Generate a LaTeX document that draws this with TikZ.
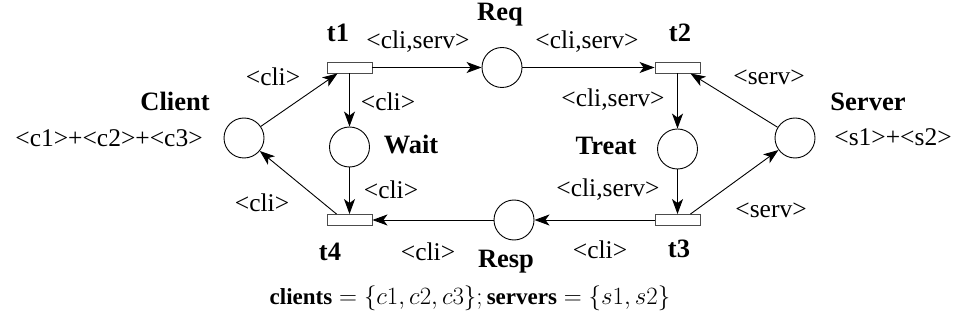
\documentclass[tikz,border=0pt]{standalone}
\usepackage{fontspec}
\setmainfont{Liberation Serif}
\usetikzlibrary{arrows.meta}
\begin{document}
\begin{tikzpicture}[x=1pt,y=-1pt,
 place/.style={circle,draw,line width=0.9pt,minimum size=40pt,inner sep=0pt},
 trans/.style={rectangle,draw=black!70,fill=white,line width=0.9pt,minimum width=45pt,minimum height=11pt,inner sep=0pt},
 arc/.style={line width=0.9pt,-{Stealth[length=15pt,width=11pt,inset=4pt]}},
 lbl/.style={font=\fontsize{25.5}{30}\selectfont,inner sep=0pt},
 blbl/.style={font=\fontsize{26.5}{30}\selectfont\bfseries,inner sep=0pt}]
\useasboundingbox (0,0) rectangle (957,320);
% places
\node[place] (Client) at (244,138) {};
\node[place] (Wait) at (349.5,147) {};
\node[place] (Req) at (502,67.5) {};
\node[place] (Treat) at (677.5,149) {};
\node[place] (Resp) at (514,220) {};
\node[place] (Server) at (795,138) {};
% transitions
\node[trans] (t1) at (349.5,67.5) {};
\node[trans] (t4) at (349.5,220) {};
\node[trans] (t2) at (677.5,67.5) {};
\node[trans] (t3) at (677.5,220) {};
% arcs
\draw[arc] (Client) -- ([xshift=11pt]t1.south west);
\draw[arc] (t1) -- (Wait);
\draw[arc] (Wait) -- (t4);
\draw[arc] ([xshift=10pt]t4.north west) -- (Client);
\draw[arc] (t1) -- (Req);
\draw[arc] (Req) -- (t2);
\draw[arc] (t2) -- (Treat);
\draw[arc] (Treat) -- (t3);
\draw[arc] (Server) -- ([xshift=-10pt]t2.south east);
\draw[arc] ([xshift=-10pt]t3.north east) -- (Server);
\draw[arc] (t3) -- (Resp);
\draw[arc] (Resp) -- (t4);
% names
\node[blbl] (nt1) at (338,33) {t1};
\node[blbl] (nt2) at (680,33) {t2};
\node[blbl] (nt3) at (679,249) {t3};
\node[blbl] (nt4) at (330,252) {t4};
\node[blbl] (nReq) at (500,15) {Req};
\node[blbl] (nResp) at (506,262) {Resp};
\node[blbl] (nWait) at (411,145) {Wait};
\node[blbl] (nTreat) at (606,146) {Treat};
\node[blbl] (nClient) at (175,101) {Client};
\node[blbl] (nServer) at (868,102) {Server};
% markings
\node[lbl] (mClient) at (109,138) {<c1>+<c2>+<c3>};
\node[lbl] (mServer) at (893,137) {<s1>+<s2>};
% arc labels
\node[lbl] (a1) at (273,77) {<cli>};
\node[lbl] (a2) at (388,102) {<cli>};
\node[lbl] (a3) at (391,190) {<cli>};
\node[lbl] (a4) at (262,203) {<cli>};
\node[lbl] (a5) at (418,42) {<cli,serv>};
\node[lbl] (a6) at (587,42) {<cli,serv>};
\node[lbl] (a7) at (613,100) {<cli,serv>};
\node[lbl] (a8) at (608,190) {<cli,serv>};
\node[lbl] (a9) at (769,77) {<serv>};
\node[lbl] (a10) at (771,210) {<serv>};
\node[lbl] (a11) at (600,250) {<cli>};
\node[lbl] (a12) at (428,252) {<cli>};
% declaration
\node[font=\fontsize{23}{27}\selectfont,inner sep=0pt] (decl) at (470,298)
 {$\textbf{clients}=\{c1,c2,c3\};\textbf{servers}=\{s1,s2\}$};
\end{tikzpicture}
\end{document}
